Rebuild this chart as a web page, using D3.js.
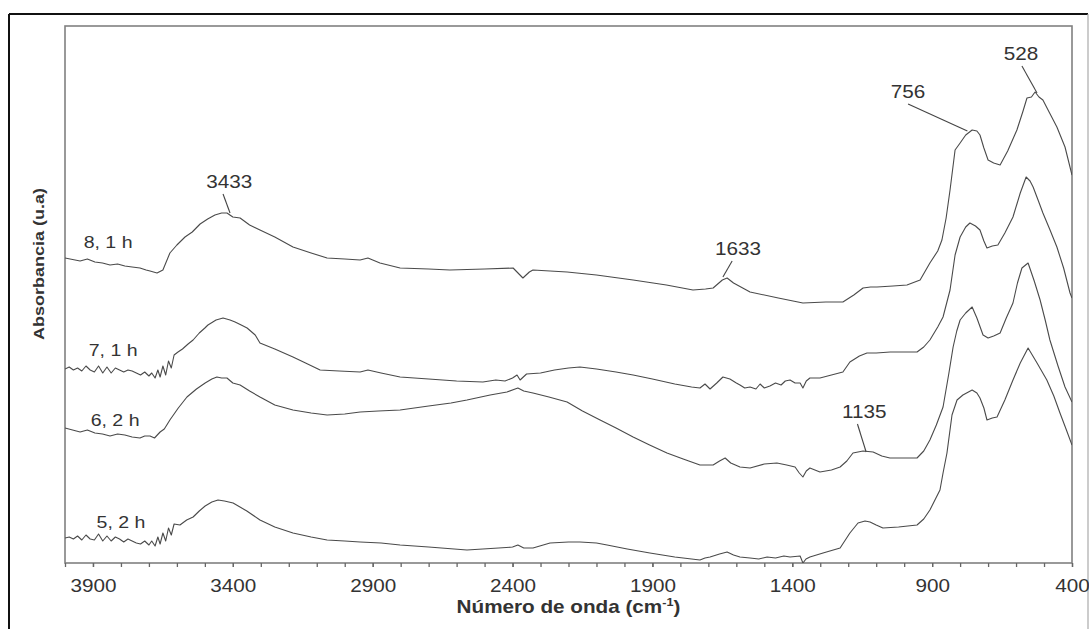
<!DOCTYPE html>
<html>
<head>
<meta charset="utf-8">
<script src="https://d3js.org/d3.v7.min.js"></script>
<style>
  body { margin: 0; background: #fff; }
  text { font-family: "Liberation Sans", Arial, sans-serif; fill: #333; }
</style>
</head>
<body>
<div id="chart"></div>
<script>
// spectra: [wavenumber (cm-1), absorbance (u.a)]
var s8 = [[4000,3.05],[3946,3.02],[3920,3.04],[3893,3.01],[3866,3.00],[3839,2.98],[3812,2.99],[3786,2.97],[3760,2.96],[3732,2.95],[3710,2.93],[3696,2.92],[3671,2.90],[3650,2.93],[3625,3.10],[3600,3.18],[3571,3.26],[3545,3.31],[3517,3.39],[3490,3.44],[3464,3.48],[3440,3.50],[3421,3.50],[3400,3.46],[3374,3.45],[3340,3.38],[3303,3.33],[3250,3.26],[3185,3.16],[3120,3.10],[3063,3.05],[3000,3.04],[2945,3.03],[2917,3.05],[2874,3.00],[2802,2.95],[2700,2.94],[2624,2.93],[2500,2.94],[2398,2.95],[2363,2.85],[2340,2.91],[2327,2.93],[2205,2.91],[2100,2.88],[1969,2.83],[1850,2.78],[1755,2.73],[1710,2.74],[1683,2.75],[1650,2.83],[1633,2.85],[1610,2.80],[1551,2.71],[1450,2.65],[1362,2.60],[1280,2.61],[1219,2.61],[1180,2.68],[1147,2.75],[1120,2.76],[1097,2.76],[1040,2.77],[990,2.78],[943,2.83],[908,3.00],[880,3.12],[865,3.23],[850,3.45],[836,3.73],[818,4.13],[800,4.20],[780,4.28],[757,4.33],[740,4.32],[729,4.28],[715,4.15],[700,4.03],[680,4.00],[657,3.98],[630,4.12],[597,4.33],[575,4.52],[561,4.65],[545,4.66],[532,4.71],[518,4.66],[504,4.63],[480,4.50],[454,4.36],[425,4.16],[400,3.88]];

var s7 = [[4000,1.94],[3985,1.96],[3970,1.93],[3955,1.95],[3940,1.92],[3925,1.97],[3910,1.93],[3895,1.91],[3880,1.97],[3865,1.90],[3850,1.96],[3835,1.90],[3820,1.95],[3805,1.93],[3790,1.91],[3775,1.93],[3760,1.92],[3745,1.90],[3730,1.88],[3715,1.91],[3700,1.87],[3690,1.90],[3678,1.85],[3668,1.93],[3660,1.86],[3650,1.97],[3640,1.88],[3630,2.02],[3620,1.95],[3610,2.08],[3596,2.11],[3580,2.14],[3560,2.19],[3542,2.23],[3520,2.30],[3500,2.35],[3489,2.38],[3460,2.43],[3435,2.45],[3410,2.43],[3392,2.41],[3370,2.38],[3349,2.35],[3320,2.28],[3303,2.20],[3250,2.14],[3185,2.06],[3140,2.00],[3088,1.93],[3020,1.92],[2945,1.91],[2917,1.93],[2870,1.90],[2802,1.86],[2700,1.84],[2600,1.82],[2506,1.81],[2460,1.83],[2427,1.82],[2400,1.85],[2384,1.88],[2373,1.83],[2350,1.89],[2300,1.90],[2250,1.93],[2200,1.95],[2159,1.96],[2100,1.94],[2030,1.91],[1969,1.88],[1900,1.84],[1820,1.79],[1760,1.76],[1730,1.75],[1712,1.79],[1694,1.74],[1670,1.80],[1648,1.86],[1623,1.84],[1600,1.80],[1587,1.78],[1570,1.75],[1551,1.76],[1530,1.74],[1515,1.79],[1500,1.75],[1480,1.77],[1460,1.80],[1440,1.78],[1425,1.82],[1408,1.83],[1390,1.80],[1372,1.80],[1362,1.75],[1350,1.82],[1337,1.85],[1301,1.85],[1260,1.88],[1219,1.91],[1194,2.01],[1160,2.07],[1133,2.10],[1100,2.10],[1050,2.11],[954,2.11],[930,2.16],[908,2.23],[880,2.36],[861,2.46],[836,2.73],[818,3.08],[800,3.26],[780,3.36],[765,3.40],[745,3.37],[729,3.33],[715,3.22],[704,3.15],[685,3.17],[665,3.18],[640,3.30],[611,3.46],[585,3.70],[564,3.86],[550,3.82],[539,3.76],[520,3.62],[504,3.50],[480,3.34],[454,3.16],[430,2.95],[407,2.70],[400,2.65]];

var s6 = [[4000,1.35],[3973,1.33],[3946,1.31],[3920,1.33],[3893,1.30],[3866,1.29],[3839,1.27],[3812,1.29],[3786,1.28],[3760,1.26],[3732,1.25],[3715,1.27],[3696,1.27],[3680,1.25],[3660,1.31],[3645,1.34],[3625,1.43],[3595,1.55],[3564,1.66],[3530,1.74],[3499,1.80],[3475,1.84],[3457,1.86],[3440,1.85],[3421,1.85],[3400,1.80],[3374,1.78],[3340,1.72],[3303,1.66],[3250,1.58],[3185,1.53],[3120,1.50],[3063,1.48],[3000,1.49],[2945,1.51],[2880,1.52],[2802,1.53],[2700,1.57],[2620,1.60],[2563,1.63],[2480,1.68],[2420,1.71],[2381,1.75],[2360,1.72],[2327,1.70],[2270,1.66],[2205,1.61],[2150,1.52],[2087,1.43],[2030,1.35],[1969,1.26],[1910,1.18],[1848,1.10],[1790,1.04],[1730,0.98],[1683,0.98],[1660,1.02],[1640,1.05],[1620,1.00],[1587,0.96],[1551,0.95],[1500,0.99],[1455,1.00],[1420,0.98],[1390,0.96],[1375,0.90],[1362,0.86],[1350,0.92],[1337,0.95],[1301,0.91],[1260,0.93],[1229,0.96],[1205,1.02],[1183,1.10],[1147,1.12],[1111,1.11],[1080,1.07],[1051,1.05],[1000,1.05],[954,1.05],[930,1.12],[908,1.23],[885,1.38],[861,1.56],[840,1.90],[825,2.16],[812,2.32],[800,2.43],[780,2.50],[757,2.56],[740,2.45],[718,2.28],[700,2.25],[680,2.27],[657,2.30],[635,2.45],[611,2.60],[595,2.80],[579,2.95],[557,3.00],[535,2.82],[514,2.63],[495,2.42],[479,2.23],[450,1.97],[425,1.76],[400,1.61]];

var s5 = [[4000,0.25],[3985,0.26],[3970,0.24],[3955,0.27],[3940,0.23],[3925,0.28],[3910,0.24],[3895,0.23],[3880,0.29],[3865,0.22],[3850,0.27],[3835,0.22],[3820,0.26],[3805,0.24],[3790,0.21],[3775,0.24],[3760,0.22],[3745,0.20],[3730,0.19],[3715,0.22],[3700,0.18],[3690,0.22],[3678,0.17],[3668,0.26],[3660,0.19],[3650,0.30],[3640,0.22],[3630,0.35],[3620,0.28],[3610,0.39],[3589,0.38],[3565,0.43],[3542,0.46],[3520,0.52],[3499,0.57],[3475,0.61],[3453,0.63],[3430,0.62],[3399,0.60],[3350,0.52],[3303,0.43],[3250,0.36],[3185,0.30],[3120,0.26],[3063,0.23],[3000,0.22],[2945,0.21],[2870,0.20],[2802,0.18],[2700,0.16],[2563,0.13],[2450,0.15],[2400,0.16],[2381,0.18],[2360,0.15],[2327,0.15],[2266,0.20],[2200,0.21],[2159,0.21],[2100,0.20],[2062,0.18],[1990,0.14],[1909,0.10],[1820,0.06],[1760,0.04],[1730,0.03],[1712,0.05],[1694,0.06],[1660,0.09],[1633,0.11],[1610,0.08],[1587,0.06],[1551,0.05],[1520,0.04],[1490,0.06],[1460,0.05],[1430,0.07],[1408,0.06],[1372,0.07],[1362,0.00],[1351,0.04],[1337,0.06],[1290,0.10],[1229,0.15],[1194,0.30],[1165,0.40],[1140,0.42],[1122,0.41],[1100,0.38],[1076,0.35],[1020,0.36],[954,0.38],[930,0.44],[908,0.53],[872,0.73],[861,0.90],[847,1.10],[829,1.48],[811,1.63],[790,1.68],[757,1.73],[740,1.70],[729,1.65],[715,1.55],[704,1.43],[685,1.45],[668,1.46],[640,1.63],[611,1.83],[585,2.00],[557,2.15],[525,2.00],[490,1.83],[465,1.67],[443,1.50],[420,1.33],[400,1.18]];

var seriesData = [s8, s7, s6, s5];
var seriesNames = ["8, 1 h", "7, 1 h", "6, 2 h", "5, 2 h"];
var nameWn = [3846, 3828, 3821, 3800];
var nameAb = [3.15, 2.07, 1.37, 0.35];

var majorTicks = [3900, 3400, 2900, 2400, 1900, 1400, 900, 400];

// band annotations: label, label position, tip on the curve
var annText = ["3433", "1633", "756", "528", "1135"];
var annTextWn = [3413, 1594, 986, 582, 1143];
var annTextAb = [3.75, 3.08, 4.65, 5.03, 1.45];
var annLineWn = [3435, 1615, 986, 579, 1167];
var annTipWn = [3410, 1648, 774, 525, 1136];
var annTipAb = [3.50, 2.86, 4.32, 4.70, 1.11];

var W = 1089, H = 629;
var mLeft = 65, mRight = 1072, mTop = 26, mBottom = 563;
var stretch = 1.15;

var svg = d3.select("#chart").append("svg")
    .attr("width", W).attr("height", H);

// outer frame of the figure
svg.append("line").attr("x1", 9).attr("y1", 14).attr("x2", 1088).attr("y2", 14)
    .attr("stroke", "#111").attr("stroke-width", 2);
svg.append("line").attr("x1", 9).attr("y1", 14).attr("x2", 9).attr("y2", H)
    .attr("stroke", "#111").attr("stroke-width", 2);
svg.append("line").attr("x1", 1088).attr("y1", 14).attr("x2", 1088).attr("y2", H)
    .attr("stroke", "#aaa").attr("stroke-width", 1.2);

var x = d3.scaleLinear().domain([4000, 400]).range([mLeft, mRight]);
var y = d3.scaleLinear().domain([0, 5.37]).range([mBottom, mTop]);

// plot box
svg.append("rect")
    .attr("x", mLeft).attr("y", mTop)
    .attr("width", mRight - mLeft).attr("height", mBottom - mTop)
    .attr("fill", "none").attr("stroke", "#808080").attr("stroke-width", 1.6);

// minor ticks every 100
var minorAxis = d3.axisBottom(x).tickValues(d3.range(4000, 399, -100)).tickSize(4).tickFormat("");
var gm = svg.append("g").attr("transform", "translate(0," + mBottom + ")").call(minorAxis);
gm.select(".domain").remove();
gm.selectAll("line").attr("stroke", "#666").attr("stroke-width", 1.3);

var majorAxis = d3.axisBottom(x).tickValues(majorTicks).tickSize(4).tickPadding(12).tickFormat(d3.format("d"));
var ga = svg.append("g").attr("transform", "translate(0," + mBottom + ")").call(majorAxis);
ga.select(".domain").remove();
ga.selectAll("line").attr("stroke", "#666").attr("stroke-width", 1.3);
ga.selectAll("text")
    .attr("fill", "#333")
    .style("font-size", "18px")
    .style("font-family", "'Liberation Sans', Arial, sans-serif")
    .attr("transform", "scale(" + stretch + ",1)");

// axis titles
var xt = svg.append("text")
    .attr("transform", "translate(" + ((mLeft + mRight) / 2) + ",613) scale(" + stretch + ",1)")
    .attr("text-anchor", "middle")
    .style("font-size", "18px").style("font-weight", "bold");
xt.append("tspan").text("Número de onda (cm");
xt.append("tspan").attr("dy", -7).style("font-size", "11px").text("-1");
xt.append("tspan").attr("dy", 7).text(")");

svg.append("text")
    .attr("transform", "translate(44,264) rotate(-90)")
    .attr("text-anchor", "middle")
    .attr("textLength", 152).attr("lengthAdjust", "spacingAndGlyphs")
    .style("font-size", "15px").style("font-weight", "bold")
    .text("Absorbancia (u.a)");

// spectra
svg.append("clipPath").attr("id", "clip").append("rect")
    .attr("x", mLeft).attr("y", mTop).attr("width", mRight - mLeft).attr("height", mBottom - mTop);

var line = d3.line().x(function(d) { return x(d[0]); }).y(function(d) { return y(d[1]); });

svg.append("g").attr("clip-path", "url(#clip)")
    .selectAll("path")
    .data(seriesData)
    .enter().append("path")
    .attr("d", line)
    .attr("fill", "none")
    .attr("stroke", "#4a4a4a")
    .attr("stroke-width", 1.1)
    .attr("stroke-linejoin", "round");

// series names
seriesNames.forEach(function(n, i) {
    svg.append("text")
        .attr("transform", "translate(" + x(nameWn[i]) + "," + y(nameAb[i]) + ") scale(" + stretch + ",1)")
        .attr("text-anchor", "middle")
        .style("font-size", "17px")
        .text(n);
});

// band labels with leader lines
annText.forEach(function(t, i) {
    svg.append("text")
        .attr("transform", "translate(" + x(annTextWn[i]) + "," + y(annTextAb[i]) + ") scale(" + stretch + ",1)")
        .attr("text-anchor", "middle")
        .style("font-size", "18px")
        .text(t);
    svg.append("line")
        .attr("x1", x(annLineWn[i])).attr("y1", y(annTextAb[i]) + 6)
        .attr("x2", x(annTipWn[i])).attr("y2", y(annTipAb[i]))
        .attr("stroke", "#444").attr("stroke-width", 1.1);
});
</script>
</body>
</html>
